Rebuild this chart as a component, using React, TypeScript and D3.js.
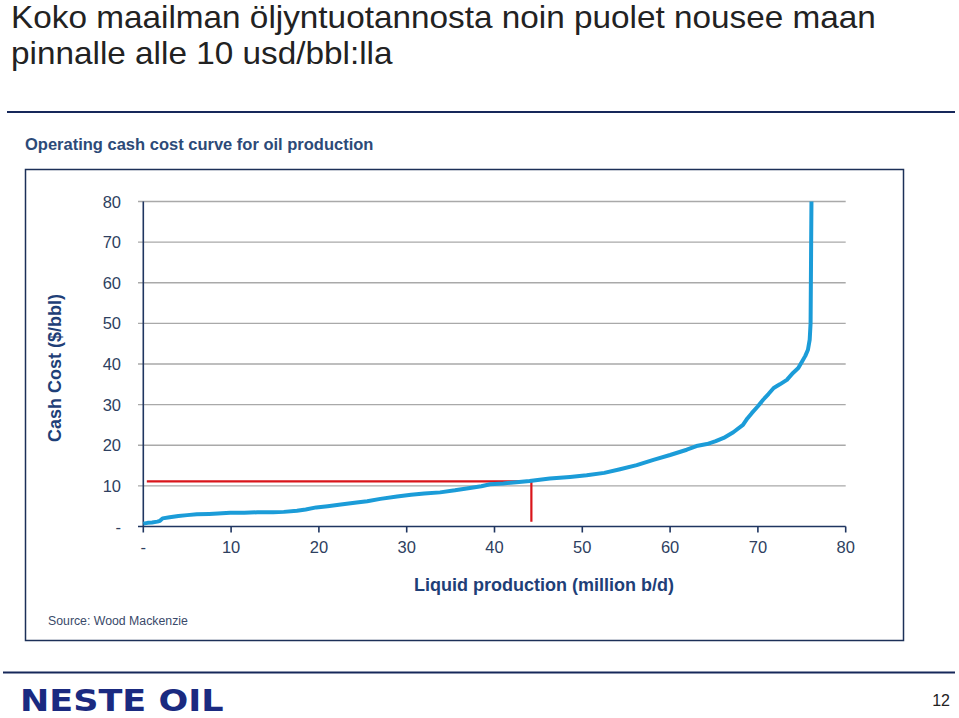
import React from "react";
import * as d3 from "d3";

const TITLE_LINES = [
  "Koko maailman öljyntuotannosta noin puolet nousee maan",
  "pinnalle alle 10 usd/bbl:lla",
];
const CHART_TITLE = "Operating cash cost curve for oil production";
const Y_LABEL = "Cash Cost ($/bbl)";
const X_LABEL = "Liquid production (million b/d)";
const SOURCE = "Source: Wood Mackenzie";

const X_TICKS = [0, 10, 20, 30, 40, 50, 60, 70, 80];
const Y_TICKS = [0, 10, 20, 30, 40, 50, 60, 70, 80];

// cumulative production (million b/d)
const PROD = [
  0, 0.5, 1.0, 1.6, 1.9, 2.2, 3.0, 4.0, 5.0, 6.1, 7.5, 8.5, 9.9, 11.5, 13.0, 14.8,
  16.0, 17.5, 18.5, 19.7, 21.0, 22.5, 24.3, 25.5, 27.0, 28.9, 30.5, 32.0, 33.8,
  35.5, 37.2, 38.5, 39.5, 41.0, 42.5, 44.0, 46.3, 48.6, 50.5, 52.5, 54.3, 56.2,
  58.1, 60.0, 61.9, 63.0, 64.2, 65.2, 66.1, 67.2, 68.3, 68.8, 69.3, 70.0, 70.6,
  71.2, 71.8, 72.5, 73.3, 74.0, 74.6, 75.0, 75.4, 75.7, 75.9, 76.0, 76.05, 76.1,
];
// operating cash cost ($/bbl)
const COST = [
  0.7, 0.9, 1.0, 1.2, 1.4, 2.0, 2.3, 2.6, 2.8, 3.0, 3.1, 3.2, 3.4, 3.4, 3.5, 3.5,
  3.6, 3.9, 4.2, 4.7, 5.0, 5.4, 5.9, 6.2, 6.8, 7.4, 7.8, 8.1, 8.4, 8.9, 9.5,
  9.9, 10.4, 10.6, 10.9, 11.2, 11.8, 12.2, 12.6, 13.2, 14.1, 15.1, 16.4, 17.6,
  18.9, 19.8, 20.3, 21.0, 21.8, 23.2, 25.0, 26.6, 27.9, 29.6, 31.2, 32.6, 34.1,
  35.0, 36.1, 37.8, 39.0, 40.5, 42.0, 43.5, 46.0, 50.0, 65.0, 80.0,
];

const MARK_X = 44.2;
const MARK_Y = 11.1;

const NAVY = "#1f3560";
const TEXT = "#2e3f5f";

export default function App() {
  const x = d3.scaleLinear().domain([0, 80]).range([143.3, 845.7]);
  const y = d3.scaleLinear().domain([0, 80]).range([526.5, 201.5]);
  const pts: [number, number][] = PROD.map((p, i) => [p, COST[i]]);
  const line = d3
    .line<[number, number]>()
    .x((d) => x(d[0]))
    .y((d) => y(d[1]))
    .curve(d3.curveLinear);

  return (
    <svg
      width={959}
      height={718}
      style={{ position: "absolute", left: 0, top: 0, background: "#fff" }}
      fontFamily="Liberation Sans, Arial, sans-serif"
    >
      <g transform="translate(11,0) scale(1.075,1)">
        {TITLE_LINES.map((t, i) => (
          <text key={i} x={0} y={28.5 + i * 36} fontSize={31} fill="#222">
            {t}
          </text>
        ))}
      </g>
      <line x1={7} x2={955} y1={112} y2={112} stroke="#16285a" strokeWidth={2.2} />

      <text x={25} y={150} fontSize={16.5} fontWeight="bold" fill="#2c4a78">
        {CHART_TITLE}
      </text>
      <rect x={25.5} y={169.5} width={878} height={471} fill="none" stroke="#1c3058" strokeWidth={1.5} />

      {/* gridlines */}
      {Y_TICKS.filter((t) => t > 0).map((t) => (
        <line key={t} x1={138} x2={x(80)} y1={y(t)} y2={y(t)} stroke="#a9a9a9" strokeWidth={1.3} />
      ))}
      {/* axes */}
      <line x1={x(0)} x2={x(0)} y1={y(80)} y2={y(0)} stroke={NAVY} strokeWidth={1.6} />
      <line x1={138} x2={x(80)} y1={y(0)} y2={y(0)} stroke={NAVY} strokeWidth={1.6} />
      {X_TICKS.map((t) => (
        <line key={t} x1={x(t)} x2={x(t)} y1={y(0)} y2={y(0) + 6} stroke={NAVY} strokeWidth={1.6} />
      ))}
      {Y_TICKS.map((t) => (
        <text key={t} x={121} y={y(t) + 6} fontSize={16.5} textAnchor="end" fill={TEXT}>
          {t === 0 ? "-" : t}
        </text>
      ))}
      {X_TICKS.map((t) => (
        <text key={t} x={x(t)} y={553} fontSize={16.5} textAnchor="middle" fill={TEXT}>
          {t === 0 ? "-" : t}
        </text>
      ))}

      <text
        transform={`translate(61,368) rotate(-90)`}
        fontSize={18}
        fontWeight="bold"
        textAnchor="middle"
        fill="#1f3f78"
      >
        {Y_LABEL}
      </text>
      <text x={544} y={591} fontSize={18} fontWeight="bold" textAnchor="middle" fill="#1f3f78">
        {X_LABEL}
      </text>
      <text x={48} y={625} fontSize={12.3} fill="#3a4a6a">
        {SOURCE}
      </text>

      {/* red marker */}
      <path
        d={`M${x(0.4)},${y(MARK_Y)} H${x(MARK_X)} V${y(1.2)}`}
        fill="none"
        stroke="#d9151b"
        strokeWidth={2.2}
      />
      {/* curve */}
      <path d={line(pts) || ""} fill="none" stroke="#1b9cd8" strokeWidth={4} strokeLinejoin="round" />

      <line x1={3} x2={955} y1={672.5} y2={672.5} stroke="#16285a" strokeWidth={2.2} />
      <g transform="translate(20,711) scale(1.13,1)">
        <text
          x={0}
          y={0}
          fontSize={31}
          fontWeight="bold"
          fill="#1a2a80"
          fontFamily="DejaVu Sans, sans-serif"
        >
          NESTE OIL
        </text>
      </g>
      <text x={950} y={706} fontSize={16} textAnchor="end" fill="#222">
        12
      </text>
    </svg>
  );
}
